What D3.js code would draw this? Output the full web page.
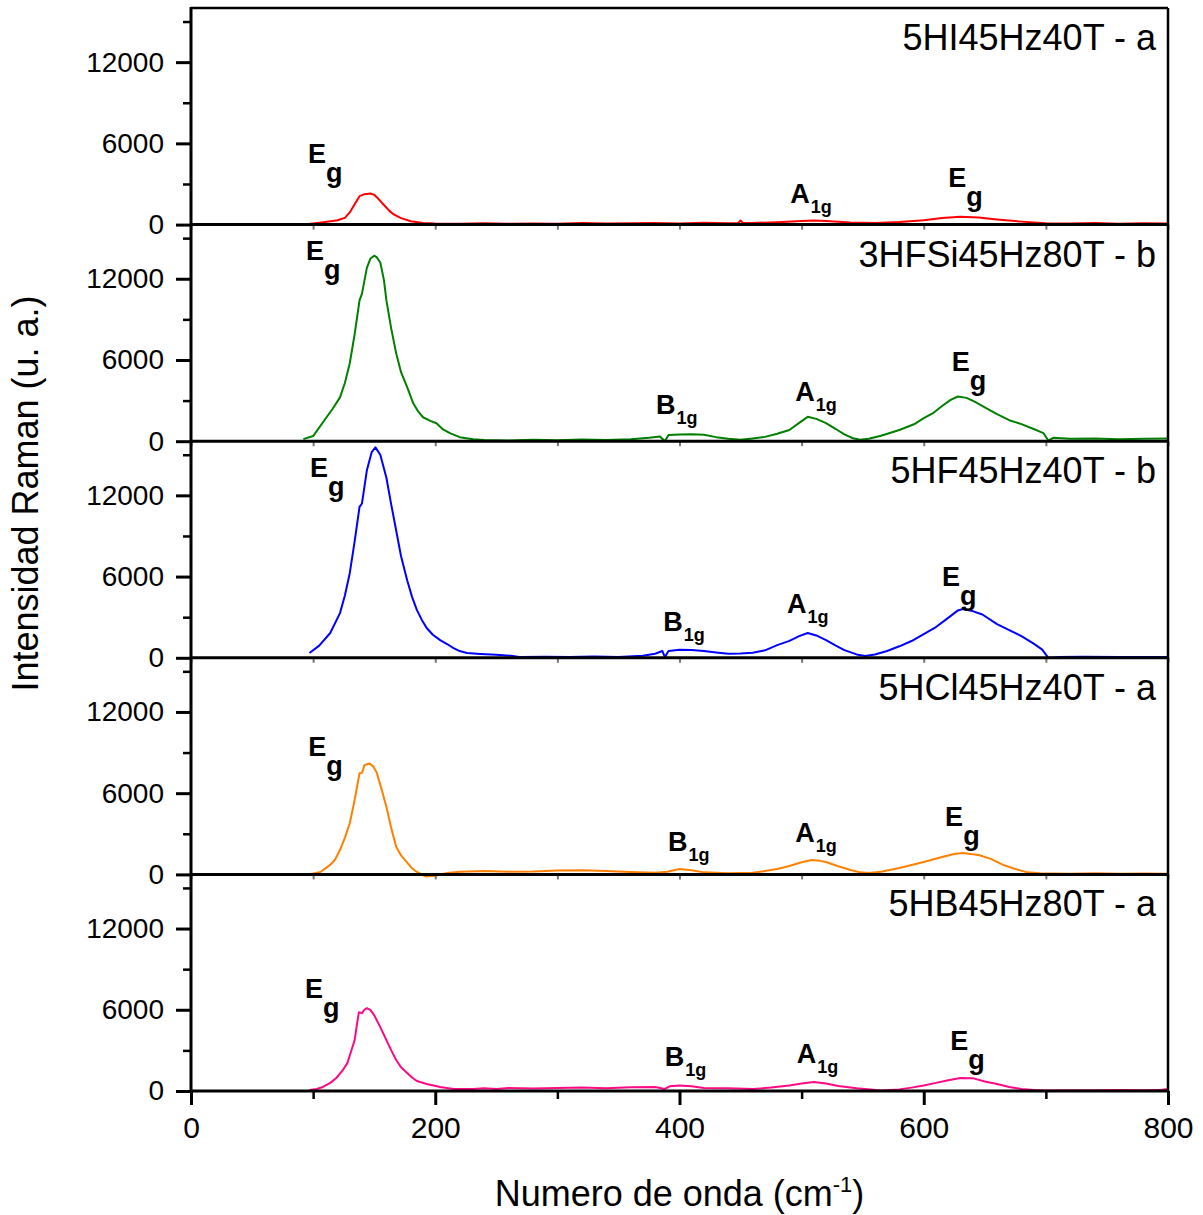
<!DOCTYPE html>
<html>
<head>
<meta charset="utf-8">
<script src="https://cdn.jsdelivr.net/npm/d3@7"></script>
<style>
  html, body { margin: 0; padding: 0; background: #fff; }
  svg { display: block; font-family: "Liberation Sans", Arial, sans-serif; }
</style>
</head>
<body>
<svg id="chart" width="1203" height="1215"></svg>
<script>
// ---------------- data ----------------
const panelTitles = ["5HI45Hz40T - a", "3HFSi45Hz80T - b", "5HF45Hz40T - b", "5HCl45Hz40T - a", "5HB45Hz80T - a"];
const panelColors = ["#ff0000", "#008000", "#0000ff", "#ff8000", "#ff0a85"];

const xMajorTicks = [0, 200, 400, 600, 800];
const xMinorTicks = [100, 300, 500, 700];
const yMajorTicks = [0, 6000, 12000];
const yMinorTicks = [3000, 9000, 15000];

const spectrumA_HI = [[93,0],[100,80],[110,200],[120,320],[126,500],[130,900],[134,1500],[138,2100],[142,2250],[147,2300],[150,2200],[154,1850],[158,1450],[162,1050],[166,750],[172,480],[180,250],[190,120],[200,80],[220,60],[240,100],[260,60],[280,90],[300,70],[320,110],[340,80],[360,100],[380,120],[400,90],[420,140],[440,100],[448,110],[450,300],[452,110],[460,120],[480,180],[500,260],[510,300],[520,260],[540,160],[560,120],[580,200],[600,320],[615,480],[630,580],[645,520],[660,380],[680,220],[700,100],[720,80],[740,110],[760,70],[780,100],[800,90]];

const spectrumB_HFSi = [[92,150],[100,380],[111,1770],[116,2400],[122,3240],[126,4300],[130,5760],[134,7900],[138,10400],[140,10900],[144,12800],[147,13500],[150,13700],[152,13600],[155,13200],[158,11900],[160,10400],[164,8300],[168,6500],[172,5100],[177,4000],[182,2800],[186,2200],[190,1770],[196,1500],[201,1330],[206,900],[212,600],[220,300],[231,150],[240,80],[260,60],[280,100],[300,70],[320,120],[340,90],[360,150],[375,250],[384,350],[388,0],[391,450],[400,500],[410,520],[420,480],[430,300],[440,180],[450,100],[460,200],[470,320],[480,550],[490,830],[498,1350],[505,1800],[512,1650],[520,1330],[528,900],[535,500],[542,220],[548,100],[555,180],[565,400],[580,830],[592,1250],[600,1700],[608,2100],[615,2600],[622,3050],[628,3300],[635,3200],[642,2900],[650,2500],[660,2000],[670,1550],[680,1260],[690,900],[698,600],[702,50],[706,250],[720,180],[740,200],[760,150],[780,180],[800,200]];

const spectrumB_HF = [[97,350],[105,900],[114,1830],[122,3300],[126,4600],[130,6250],[134,8600],[138,11150],[140,11400],[144,13850],[148,15200],[151,15540],[155,15000],[160,13300],[164,11300],[168,9400],[172,7500],[177,5730],[181,4500],[185,3520],[189,2800],[193,2200],[198,1700],[204,1310],[210,1000],[215,720],[220,500],[226,350],[237,280],[250,220],[262,150],[270,50],[290,80],[310,60],[330,100],[350,60],[370,150],[380,300],[386,500],[388,50],[391,500],[400,600],[410,570],[420,500],[430,400],[440,300],[450,320],[460,380],[470,550],[480,940],[490,1250],[498,1600],[505,1830],[512,1650],[520,1310],[528,900],[535,570],[545,250],[552,130],[560,250],[570,500],[580,850],[590,1240],[600,1750],[610,2270],[620,2950],[628,3500],[632,3600],[640,3450],[648,3200],[660,2490],[670,2050],[680,1600],[690,1050],[697,600],[702,0],[710,50],[730,80],[760,50],[780,60],[800,50]];

const spectrumA_HCl = [[97,0],[106,180],[114,700],[118,1100],[122,1800],[126,2700],[130,3780],[134,5500],[138,7470],[140,7500],[142,8060],[146,8200],[149,8000],[152,7540],[156,6300],[160,5000],[164,3400],[168,2050],[172,1400],[177,870],[181,450],[185,180],[189,0],[192,-150],[200,-100],[210,100],[220,200],[240,250],[260,200],[280,220],[300,280],[320,300],[340,250],[360,180],[380,120],[390,200],[400,400],[410,300],[420,150],[440,80],[460,120],[470,250],[480,400],[490,620],[500,900],[508,1070],[515,1000],[520,920],[530,600],[540,330],[548,150],[555,100],[565,200],[580,470],[590,700],[600,920],[615,1280],[625,1500],[632,1580],[645,1430],[655,1150],[665,700],[675,400],[685,150],[695,80],[720,50],[740,80],[760,40],[780,60],[800,50]];

const spectrumA_HB = [[97,70],[103,150],[108,300],[114,600],[119,960],[124,1500],[128,2060],[131,2900],[134,3760],[136,5000],[137.5,5820],[140,5750],[142,6000],[144,6120],[147,5970],[150,5600],[155,4720],[160,3760],[164,3000],[168,2290],[172,1750],[177,1330],[181,1000],[185,740],[193,520],[204,300],[215,150],[231,150],[240,200],[250,150],[260,220],[280,180],[300,220],[320,250],[340,200],[360,280],[380,300],[388,150],[392,350],[400,400],[410,350],[420,220],[440,200],[460,150],[475,250],[490,400],[500,550],[510,660],[520,550],[530,370],[545,200],[565,30],[580,120],[590,250],[600,400],[610,600],[620,800],[630,960],[640,950],[650,700],[660,520],[670,300],[680,150],[690,80],[700,30],[720,60],[740,50],[760,80],[780,60],[795,100],[800,150]];

const spectra = [spectrumA_HI, spectrumB_HFSi, spectrumB_HF, spectrumA_HCl, spectrumA_HB];

// peak labels: [main letter, subscript, wavenumber, intensity] (anchor = baseline-left of main letter)
const peakLabelsHI   = [["E","g",95.8,4540],["A","1g",490.6,1590],["E","g",620,2770]];
const peakLabelsHFSi = [["E","g",94.2,13350],["B","1g",380.8,2000],["A","1g",494.7,2960],["E","g",623,5170]];
const peakLabelsHF   = [["E","g",97.5,13320],["B","1g",386.6,1975],["A","1g",488,3300],["E","g",615,5290]];
const peakLabelsHCl  = [["E","g",96,8726],["B","1g",390.6,1725],["A","1g",494.7,2390],["E","g",617.5,3567]];
const peakLabelsHB   = [["E","g",93.4,6854],["B","1g",388,1842],["A","1g",496,2064],["E","g",621.6,3022]];
const peakLabels = [peakLabelsHI, peakLabelsHFSi, peakLabelsHF, peakLabelsHCl, peakLabelsHB];

// ---------------- layout ----------------
const plotLeft = 191, plotRight = 1168, plotTop = 8, plotBottom = 1091;
const nPanels = panelTitles.length;
const panelH = (plotBottom - plotTop) / nPanels;

const svg = d3.select("#chart");
const x = d3.scaleLinear().domain([0, 800]).range([plotLeft, plotRight]);
const fmt = d3.format("d");

const line = d3.line().curve(d3.curveLinear);

for (let i = 0; i < nPanels; i++) {
  const pTop = plotTop + i * panelH;
  const pBot = pTop + panelH;
  const y = d3.scaleLinear().domain([0, 16000]).range([pBot, pTop]);
  const g = svg.append("g");

  // spectrum line
  g.append("path")
    .datum(spectra[i])
    .attr("fill", "none")
    .attr("stroke", panelColors[i])
    .attr("stroke-width", 2)
    .attr("stroke-linejoin", "round")
    .attr("d", line.x(d => x(d[0])).y(d => y(d[1])));

  // y axis major
  const yMaj = g.append("g").attr("transform", `translate(${plotLeft},0)`)
    .call(d3.axisLeft(y).tickValues(yMajorTicks).tickFormat(fmt).tickSize(15).tickPadding(12).tickSizeOuter(0));
  yMaj.select(".domain").remove();
  yMaj.selectAll("line").attr("stroke", "#000").attr("stroke-width", 3);
  yMaj.selectAll("text").attr("font-size", 28).attr("fill", "#000")
    .attr("font-family", "'Liberation Sans', Arial, sans-serif");

  const yMin = g.append("g").attr("transform", `translate(${plotLeft},0)`)
    .call(d3.axisLeft(y).tickValues(yMinorTicks).tickSize(8).tickFormat("").tickSizeOuter(0));
  yMin.select(".domain").remove();
  yMin.selectAll("line").attr("stroke", "#000").attr("stroke-width", 2.5);

  // short x ticks on intermediate panel bottoms
  if (i < nPanels - 1) {
    const xtk = g.append("g").attr("transform", `translate(0,${pBot})`)
      .call(d3.axisBottom(x).tickValues(xMajorTicks.concat(xMinorTicks)).tickSize(5).tickFormat("").tickSizeOuter(0));
    xtk.select(".domain").remove();
    xtk.selectAll("line").attr("stroke", "#777").attr("stroke-width", 2);
  }

  // zero/bottom line of panel
  g.append("line").attr("x1", plotLeft).attr("x2", plotRight)
    .attr("y1", y(0)).attr("y2", y(0))
    .attr("stroke", "#000").attr("stroke-width", 3);

  // panel title
  g.append("text")
    .attr("x", plotRight - 12).attr("y", pTop + 42)
    .attr("text-anchor", "end")
    .attr("font-size", 36)
    .attr("fill", "#000")
    .text(panelTitles[i]);

  // peak labels
  peakLabels[i].forEach(p => {
    const t = g.append("text")
      .attr("x", x(p[2])).attr("y", y(p[3]))
      .attr("font-weight", "bold")
      .attr("fill", "#000")
      .attr("font-size", 27);
    t.append("tspan").text(p[0]);
    const isG = p[1] === "g";
    t.append("tspan")
      .attr("dy", isG ? 19 : 10)
      .attr("dx", isG ? 0 : 1)
      .attr("font-size", isG ? 27 : 18)
      .text(p[1]);
  });
}

// frame: top, right, left axis
svg.append("line").attr("x1", plotLeft).attr("x2", plotRight).attr("y1", plotTop).attr("y2", plotTop)
  .attr("stroke", "#000").attr("stroke-width", 2.5);
svg.append("line").attr("x1", plotRight).attr("x2", plotRight).attr("y1", plotTop).attr("y2", plotBottom)
  .attr("stroke", "#000").attr("stroke-width", 2.5);
svg.append("line").attr("x1", plotLeft).attr("x2", plotLeft).attr("y1", plotTop - 1).attr("y2", plotBottom + 1.5)
  .attr("stroke", "#000").attr("stroke-width", 3);

// bottom x axis
const xMaj = svg.append("g").attr("transform", `translate(0,${plotBottom})`)
  .call(d3.axisBottom(x).tickValues(xMajorTicks).tickFormat(fmt).tickSize(14).tickPadding(12).tickSizeOuter(0));
xMaj.select(".domain").remove();
xMaj.selectAll("line").attr("stroke", "#000").attr("stroke-width", 3);
xMaj.selectAll("text").attr("font-size", 30).attr("fill", "#000")
  .attr("font-family", "'Liberation Sans', Arial, sans-serif");

const xMin = svg.append("g").attr("transform", `translate(0,${plotBottom})`)
  .call(d3.axisBottom(x).tickValues(xMinorTicks).tickSize(8).tickFormat("").tickSizeOuter(0));
xMin.select(".domain").remove();
xMin.selectAll("line").attr("stroke", "#000").attr("stroke-width", 2.5);

// axis titles
const xTitle = svg.append("text")
  .attr("x", (plotLeft + plotRight) / 2).attr("y", 1206)
  .attr("text-anchor", "middle")
  .attr("font-size", 36).attr("fill", "#000");
xTitle.append("tspan").text("Numero de onda (cm");
xTitle.append("tspan").attr("dy", -14).attr("font-size", 22).text("-1");
xTitle.append("tspan").attr("dy", 14).text(")");

svg.append("text")
  .attr("transform", `translate(38,${(plotTop + plotBottom) / 2 - 56}) rotate(-90)`)
  .attr("text-anchor", "middle")
  .attr("font-size", 36).attr("fill", "#000")
  .text("Intensidad Raman (u. a.)");
</script>
</body>
</html>
